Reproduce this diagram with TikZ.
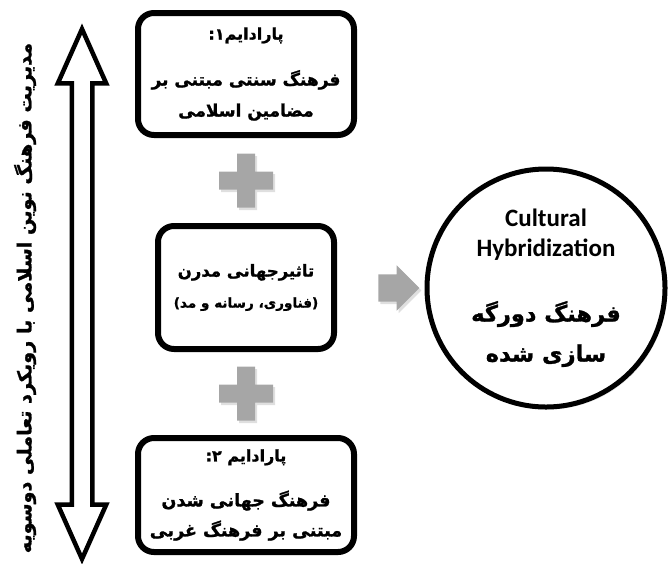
\documentclass[tikz,border=0pt]{standalone}
\usepackage{fontspec}
\setmainfont{Carlito}
\newfontfamily\fafont[Script=Arabic, BoldFeatures={FakeBold=1.2}]{DejaVu Sans}
\TeXXeTstate=1
\usepackage{tikz}
\usetikzlibrary{calc, shapes.arrows, shadows}
\definecolor{plusGray}{HTML}{A6A6A6}
\definecolor{shadowGray}{HTML}{808080}

\newcommand{\faline}[2]{{\fafont\bfseries\fontsize{#1}{#1}\selectfont #2}}

\tikzset{
  softshadow/.style={drop shadow={shadow xshift=2pt, shadow yshift=-2.5pt, opacity=0.25, fill=shadowGray}},
  paradigm/.style={draw=black, line width=6pt, rounded corners=16pt, fill=white,
    align=center, inner sep=4pt, softshadow, font=\fafont\bfseries\fontsize{17}{22}\selectfont},
}

\begin{document}
\begin{tikzpicture}[x=1pt, y=-1pt]
  \useasboundingbox (0,0) rectangle (668,563);

  % the three paradigm boxes
  \node[paradigm, minimum width=216pt, minimum height=122pt] (trad) at (246,74) {%
    \faline{16}{\beginR پارادایم۱:\endR}\\[24pt]
    \faline{17}{\beginR فرهنگ سنتی مبتنی بر\endR}\\[9pt]
    \faline{17}{\beginR مضامین اسلامی\endR}};
  \node[paradigm, minimum width=176pt, minimum height=123pt] (glob) at (246,287.5) {%
    \faline{16.5}{\beginR تاثیرجهانی مدرن\endR}\\[9pt]
    \faline{13.6}{\beginR (فناوری، رسانه و مد)\endR}};
  \node[paradigm, minimum width=216pt, minimum height=114pt] (west) at (246,495) {%
    \faline{16}{\beginR پارادایم ۲:\endR}\\[23pt]
    \faline{17.5}{\beginR فرهنگ جهانی شدن\endR}\\[8pt]
    \faline{17.5}{\beginR مبتنی بر فرهنگ غربی\endR}};

  % result
  \node[circle, draw=black, line width=5pt, fill=white, minimum size=238pt,
        align=center, softshadow, font=\bfseries\fontsize{25}{30}\selectfont] (hybrid) at (546,288) {%
    Cultural\\Hybridization\\[35pt]
    \faline{22.5}{\beginR فرهنگ دورگه\endR}\\[10pt]
    \faline{22.5}{\beginR سازی شده\endR}};

  % plus signs
  \coordinate (p1) at ($(trad.south)!0.5!(glob.north)$);
  \coordinate (p2) at ($(glob.south)!0.5!(west.north)$);
  \foreach \p in {p1,p2}
    \fill[plusGray, softshadow, shift={(\p)}] (-9,-27) -- (9,-27) -- (9,-9) -- (27,-9) -- (27,9)
      -- (9,9) -- (9,27) -- (-9,27) -- (-9,9) -- (-27,9) -- (-27,-9) -- (-9,-9) -- cycle;

  \node[single arrow, fill=plusGray, softshadow, inner sep=13.5pt, minimum height=40pt,
        single arrow head extend=9pt] (toright) at (392,288) {};

  % two-way bar
  \node[double arrow, draw=black, line width=4.5pt, fill=white, rotate=90, inner sep=8pt,
        minimum height=530pt, double arrow head extend=14pt, double arrow tip angle=48] (bar) at (82,294) {};
  \node[rotate=90, font=\fafont\bfseries\fontsize{19.2}{22}\selectfont] (axis) at (25,298)
    {\beginR مدیریت فرهنگ نوین اسلامی با رویکرد تعاملی دوسویه\endR};
\end{tikzpicture}
\end{document}
